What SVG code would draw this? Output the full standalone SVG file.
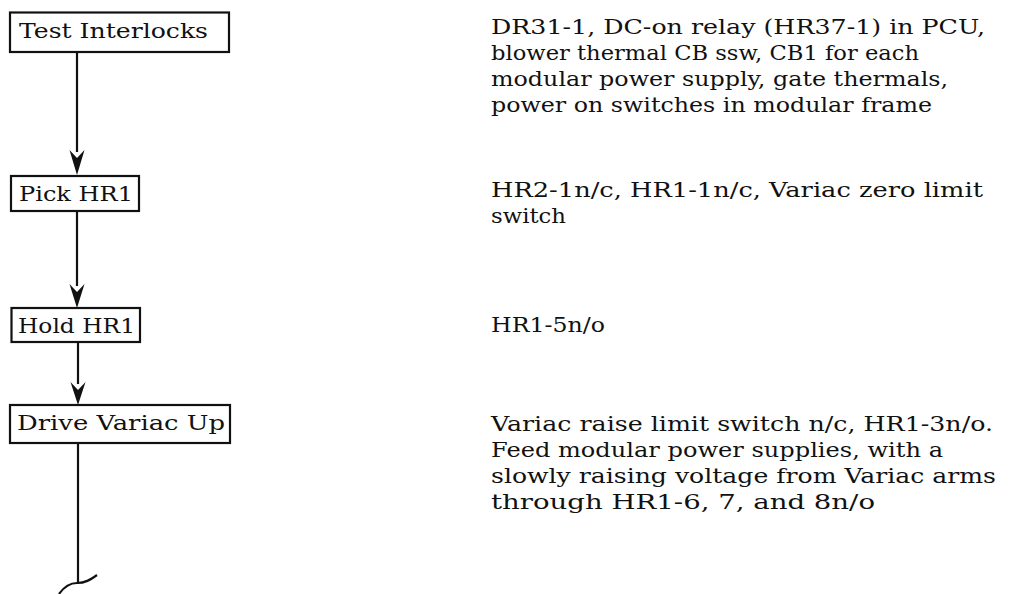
<svg xmlns="http://www.w3.org/2000/svg" width="1029" height="594" viewBox="0 0 1029 594">
<style>
.box{fill:#fff;stroke:#111;stroke-width:2.2}
.lbl{font-family:"DejaVu Serif","Liberation Serif",serif;font-size:21px;fill:#111}
.note{font-family:"DejaVu Serif","Liberation Serif",serif;font-size:20px;fill:#111}
.wire{fill:none;stroke:#111;stroke-width:2.2}
.head{fill:#111}
</style>
<rect width="1029" height="594" fill="#fff"/>
<g id="connectors">
<line class="wire" x1="77" y1="52" x2="77" y2="152"/>
<path class="head" d="M77,175 L69.5,150 L77,158 L84.5,150 Z"/>
<line class="wire" x1="77" y1="211" x2="77" y2="286"/>
<path class="head" d="M77,308 L69.5,284 L77,292 L84.5,284 Z"/>
<line class="wire" x1="78" y1="342" x2="78" y2="384"/>
<path class="head" d="M78,405 L70.5,382 L78,390 L85.5,382 Z"/>
<line class="wire" x1="78" y1="443" x2="78" y2="584"/>
<path class="wire" d="M59,594 C64,587 69,583 77,583 C85,583 90,580 97,575"/>
</g>
<g id="n1">
<rect class="box" x="10" y="12.5" width="219" height="39.5"/>
<text class="lbl" x="19" y="38" textLength="189" lengthAdjust="spacingAndGlyphs">Test Interlocks</text>
</g>
<g id="n2">
<rect class="box" x="11" y="176" width="128" height="35"/>
<text class="lbl" x="19" y="201" textLength="114" lengthAdjust="spacingAndGlyphs">Pick HR1</text>
</g>
<g id="n3">
<rect class="box" x="11.5" y="308" width="128.5" height="34"/>
<text class="lbl" x="18" y="333" textLength="117" lengthAdjust="spacingAndGlyphs">Hold HR1</text>
</g>
<g id="n4">
<rect class="box" x="10" y="405" width="220" height="38"/>
<text class="lbl" x="17" y="430" textLength="208" lengthAdjust="spacingAndGlyphs">Drive Variac Up</text>
</g>
<g id="notes">
<text class="note" x="491" y="34" textLength="494" lengthAdjust="spacingAndGlyphs">DR31-1, DC-on relay (HR37-1) in PCU,</text>
<text class="note" x="491" y="60" textLength="428" lengthAdjust="spacingAndGlyphs">blower thermal CB ssw, CB1 for each</text>
<text class="note" x="491" y="86" textLength="457" lengthAdjust="spacingAndGlyphs">modular power supply, gate thermals,</text>
<text class="note" x="491" y="112" textLength="441" lengthAdjust="spacingAndGlyphs">power on switches in modular frame</text>
<text class="note" x="491" y="197" textLength="492" lengthAdjust="spacingAndGlyphs">HR2-1n/c, HR1-1n/c, Variac zero limit</text>
<text class="note" x="491" y="223" textLength="75" lengthAdjust="spacingAndGlyphs">switch</text>
<text class="note" x="491" y="332" textLength="114" lengthAdjust="spacingAndGlyphs">HR1-5n/o</text>
<text class="note" x="491" y="431" textLength="502" lengthAdjust="spacingAndGlyphs">Variac raise limit switch n/c, HR1-3n/o.</text>
<text class="note" x="491" y="457" textLength="452" lengthAdjust="spacingAndGlyphs">Feed modular power supplies, with a</text>
<text class="note" x="491" y="483" textLength="505" lengthAdjust="spacingAndGlyphs">slowly raising voltage from Variac arms</text>
<text class="note" x="491" y="509" textLength="384" lengthAdjust="spacingAndGlyphs">through HR1-6, 7, and 8n/o</text>
</g>
</svg>
